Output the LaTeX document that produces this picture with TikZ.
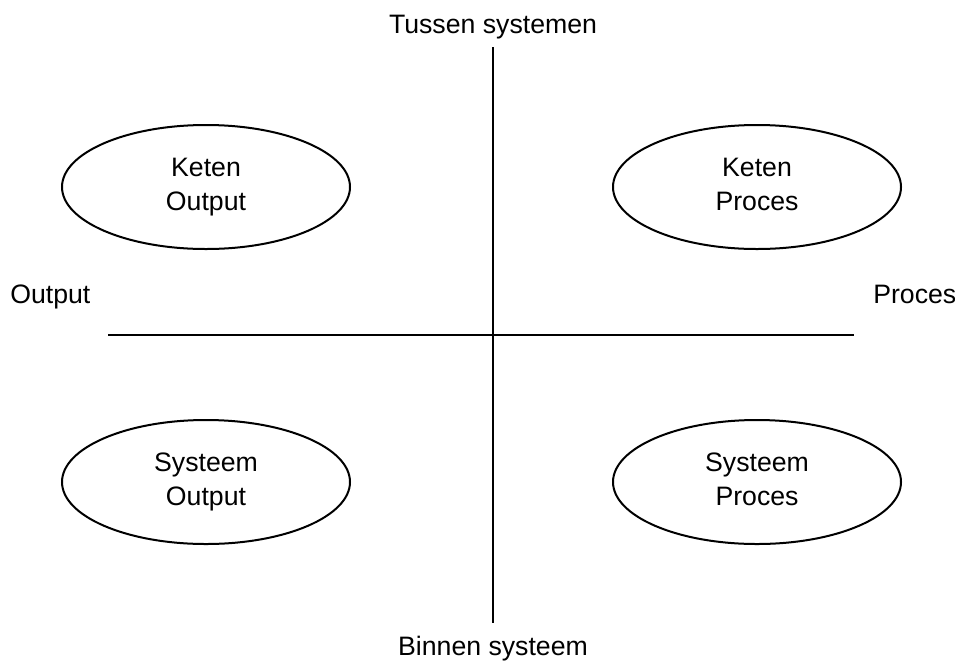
\documentclass[tikz,border=0pt]{standalone}
\usepackage{fontspec}
\setmainfont{Liberation Sans}
\usetikzlibrary{shapes.geometric}
\begin{document}
\begin{tikzpicture}[x=0.75pt, y=-0.75pt,
    quadrant/.style={draw, line width=1.5pt, ellipse, minimum width=216pt, minimum height=93pt, align=center, inner sep=0pt},
    axislabel/.style={anchor=base, inner sep=0pt},
    every node/.style={font=\fontsize{20}{25.5}\selectfont}]
                \useasboundingbox (0,0) rectangle (955,661);
                % Draw the two axes
                \coordinate (top) at (493,47);
                \coordinate (bottom) at (493,623);
                \coordinate (left) at (108,335);
                \coordinate (right) at (854,335);
                \draw[line width=1.5pt] (top) -- (bottom);
                \draw[line width=1.5pt] (left) -- (right);

                % Axis labels
                \node[axislabel] (tussen) at (493,33) {Tussen systemen};
                \node[axislabel] (binnen) at (493,655) {Binnen systeem};
                \node[axislabel, anchor=base west] (output) at (10,303) {Output};
                \node[axislabel, anchor=base west] (proces) at (873,303) {Proces};

                % Draw the four quadrants
                \node[quadrant] (ketenoutput) at (206,187) {\strut Keten\\\strut Output};
                \node[quadrant] (ketenproces) at (757,187) {\strut Keten\\\strut Proces};
                \node[quadrant] (systeemoutput) at (206,482) {\strut Systeem\\\strut Output};
                \node[quadrant] (systeemproces) at (757,482) {\strut Systeem\\\strut Proces};
            \end{tikzpicture}
\end{document}
